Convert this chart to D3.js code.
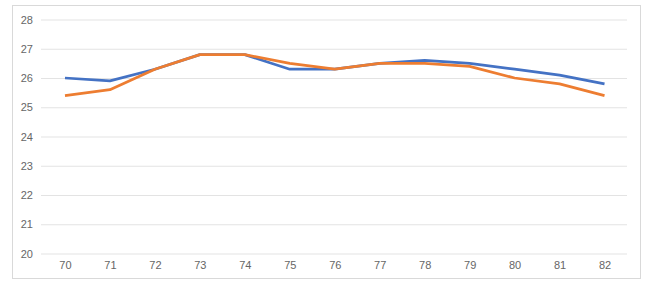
<!DOCTYPE html>
<html>
<head>
<meta charset="utf-8">
<script src="https://cdn.jsdelivr.net/npm/d3@7"></script>
<style>
  body { margin: 0; background: #fff; }
  svg text { font-family: "Liberation Sans", Arial, sans-serif; }
</style>
</head>
<body>
<div id="chart-area"></div>
<script>
// data
const years = ["70", "71", "72", "73", "74", "75", "76", "77", "78", "79", "80", "81", "82"];
const blueValues = [26.0, 25.9, 26.3, 26.8, 26.8, 26.3, 26.3, 26.5, 26.6, 26.5, 26.3, 26.1, 25.8];
const orangeValues = [25.4, 25.6, 26.3, 26.8, 26.8, 26.5, 26.3, 26.5, 26.5, 26.4, 26.0, 25.8, 25.4];
const yTicks = [20, 21, 22, 23, 24, 25, 26, 27, 28];

const width = 647, height = 281;

const svg = d3.select("#chart-area")
  .append("svg")
    .attr("width", width)
    .attr("height", height);

// outer frame
svg.append("rect")
  .attr("x", 12.5).attr("y", 5.5)
  .attr("width", 628).attr("height", 273)
  .attr("fill", "#fff")
  .attr("stroke", "#d9d9d9");

const x = d3.scalePoint()
  .domain(years)
  .range([42.5, 627])
  .padding(0.5);

const y = d3.scaleLinear()
  .domain([20, 28])
  .range([253.5, 19.5]);

// grid + y labels
const yAxis = d3.axisLeft(y)
  .tickValues(yTicks)
  .tickSize(-(627 - 41))
  .tickPadding(8)
  .tickFormat(d3.format("d"));

const gy = svg.append("g")
  .attr("transform", "translate(41,0)")
  .call(yAxis);
gy.select(".domain").remove();
gy.selectAll("line").attr("stroke", "#e3e3e3").attr("stroke-width", 1);
gy.selectAll("text").attr("fill", "#666").attr("font-size", "11px");

// x labels
const xAxis = d3.axisBottom(x).tickSize(0).tickPadding(8);
const gx = svg.append("g")
  .attr("transform", "translate(0,253.5)")
  .call(xAxis);
gx.select(".domain").remove();
gx.selectAll("text").attr("fill", "#666").attr("font-size", "11px");

const line = d3.line()
  .x((d, i) => x(years[i]))
  .y(d => y(d));

svg.append("path")
  .datum(blueValues)
  .attr("fill", "none")
  .attr("stroke", "#4472C4")
  .attr("stroke-width", 2.75)
  .attr("stroke-linejoin", "round")
  .attr("d", line);

svg.append("path")
  .datum(orangeValues)
  .attr("fill", "none")
  .attr("stroke", "#ED7D31")
  .attr("stroke-width", 2.75)
  .attr("stroke-linejoin", "round")
  .attr("d", line);
</script>
</body>
</html>
